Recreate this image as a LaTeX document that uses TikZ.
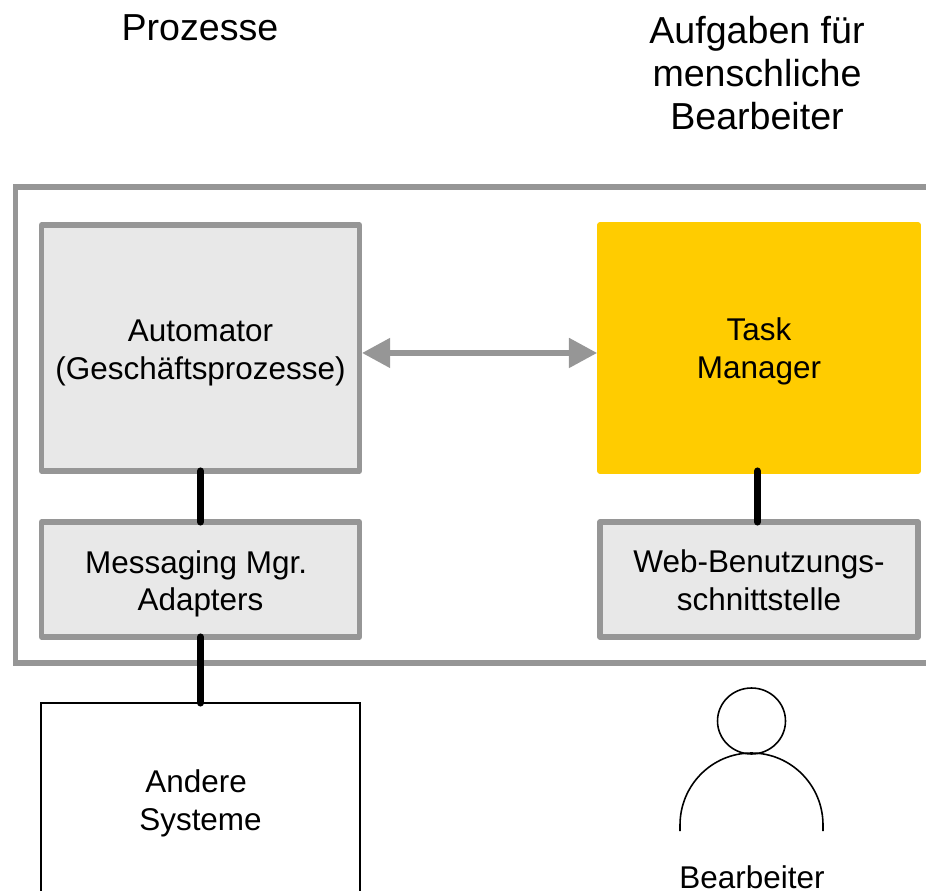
\documentclass[tikz,border=0pt]{standalone}
\usepackage{fontspec}
\setmainfont{Liberation Sans}
\usetikzlibrary{arrows.meta,shapes.geometric}
\definecolor{rahmengrau}{HTML}{969696}
\definecolor{boxgrau}{HTML}{E8E8E8}
\definecolor{taskgelb}{HTML}{FFCC00}
\newcommand{\runter}[1]{\rule{0pt}{\dimexpr13pt+#1\relax}}
\tikzset{
	grossbox/.style = {draw = rahmengrau, fill = boxgrau, line width = 3.1pt, line join = round, minimum width = 6.36cm, minimum height = 4.92cm},
	kleinbox/.style = {grossbox, minimum height = 2.3cm},
	linie/.style = {line width = 4pt, black, line cap = round},
	duenn/.style = {draw = black, line width = 0.9pt}
}
\begin{document}
\begin{tikzpicture}
		[x=0.02cm,y=-0.02cm,every node/.style={outer sep = 0pt, inner sep = 0pt, align = center, font = \fontsize{17.9}{21.5}\selectfont}]
		\clip (0,0) rectangle (926,891);
		\node (rahmen) [draw = rahmengrau, line width = 2.9pt, minimum width = 18.89cm, minimum height = 9.52cm] at (487.75,425) {};
		\node (prozesse) [font = \fontsize{21.4}{24.7}\selectfont] at (200,28) {Prozesse};
		\node (aufgaben) [font = \fontsize{21.4}{24.7}\selectfont] at (757,73) {Aufgaben für\\menschliche\\Bearbeiter};
		\node (automator) [grossbox] at (200.5,348) {\runter{5pt}Automator\\(Geschäftsprozesse)};
		\node (task) [grossbox, draw = taskgelb, fill = taskgelb] at (759,348) {\runter{3.4pt}Task\\Manager};
		\node (messaging) [kleinbox] at (200.5,579.5) {\runter{5pt}Messaging Mgr.\ \mbox{}\\Adapters};
		\node (web) [kleinbox] at (759,579.5) {\runter{0.9pt}Web-Benutzungs-\\schnittstelle};
		\node (systeme) [duenn, minimum width = 6.37cm, minimum height = 3.88cm] at (200.5,800) {\runter{4pt}Andere\ \mbox{}\\Systeme};
		\node (kopf) [duenn, ellipse, minimum width = 1.36cm, minimum height = 1.32cm] at (751.5,721) {};
		\node (bearbeiter) at (752,877) {Bearbeiter};
		\draw[duenn] (680,831) -- (680,825) arc (180:360:71.5 and 72) -- (823,831);
		\foreach \from/\to/\versatz in {automator/messaging/0pt,task/web/-0.85pt,messaging/systeme/0pt}
		\draw[linie]  ([xshift=\versatz]\from.south) -- ([xshift=\versatz]\to.north);
		\draw[rahmengrau, line width = 2.9pt, {Triangle[length=16pt,width=16.5pt]}-{Triangle[length=16pt,width=16.5pt]}, shorten <=1.5pt, shorten >=1.7pt]
			([yshift=-2.83pt]automator.east) -- ([yshift=-2.83pt]task.west);
	\end{tikzpicture}
\end{document}
